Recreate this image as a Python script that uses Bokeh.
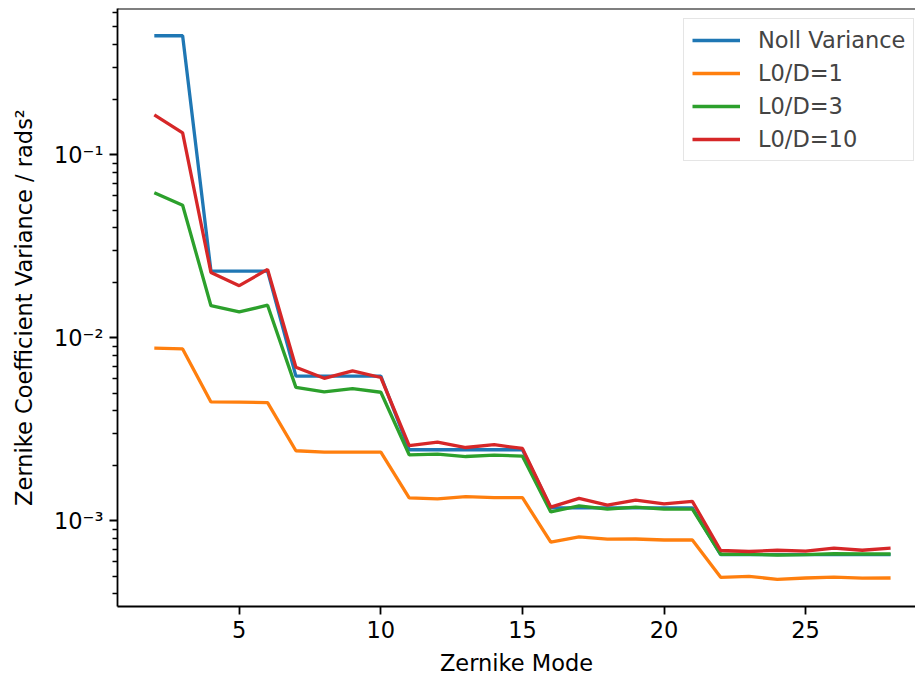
from bokeh.plotting import figure
from bokeh.models import Range1d, FixedTicker, CustomJSTickFormatter, Span, Legend
from bokeh.embed import file_html
from bokeh.resources import INLINE

modes = list(range(2, 29))

noll = [0.448, 0.448,
        0.0232, 0.0232, 0.0232,
        0.00619, 0.00619, 0.00619, 0.00619,
        0.00245, 0.00245, 0.00245, 0.00245, 0.00245,
        0.00118, 0.00118, 0.00118, 0.00118, 0.00118, 0.00118,
        0.000655, 0.000655, 0.000655, 0.000655, 0.000655, 0.000655, 0.000655]

l0d1 = [0.00879, 0.00871,
        0.00447, 0.00446, 0.00443,
        0.00242, 0.00238, 0.00238, 0.00238,
        0.001337, 0.00132, 0.00136, 0.00134, 0.00134,
        0.000766, 0.000818, 0.000795, 0.000797, 0.000787, 0.000787,
        0.000492, 0.000498, 0.00048, 0.000488, 0.000494, 0.000487, 0.000488]

l0d3 = [0.0622, 0.0531,
        0.0150, 0.01387, 0.0151,
        0.00537, 0.00508, 0.00528, 0.00505,
        0.0023, 0.00232, 0.00225, 0.00229, 0.00226,
        0.00112, 0.00121, 0.00116, 0.00119, 0.00116, 0.00116,
        0.000658, 0.000658, 0.000652, 0.000655, 0.000662, 0.00066, 0.00066]

l0d10 = [0.1655, 0.132,
         0.0228, 0.0193, 0.0237,
         0.00692, 0.00602, 0.00661, 0.00608,
         0.00258, 0.0027, 0.00252, 0.00261, 0.00249,
         0.00119, 0.00133, 0.00122, 0.0013, 0.00124, 0.00128,
         0.00069, 0.000681, 0.000692, 0.000685, 0.000711, 0.000692, 0.000711]

series_names = ["Noll Variance", "L0/D=1", "L0/D=3", "L0/D=10"]
series_values = [noll, l0d1, l0d3, l0d10]
colors = ["#1f77b4", "#ff7f0e", "#2ca02c", "#d62728"]

x_ticks = [5, 10, 15, 20, 25]
y_major = [1e-3, 1e-2, 1e-1]
y_minor = [m * 10.0 ** e for e in (-4, -3, -2, -1) for m in range(2, 10)]

FONT = "DejaVu Sans"
FS = "22.5px"

p = figure(frame_width=798, frame_height=598, y_axis_type="log",
           x_range=Range1d(0.7, 28.88), y_range=Range1d(3.41e-4, 0.631),
           output_backend="svg", toolbar_location=None,
           min_border_left=117, min_border_right=0, min_border_top=8,
           min_border_bottom=69)
p.outline_line_color = None
p.xgrid.visible = False
p.ygrid.visible = False
p.background_fill_color = "white"
p.border_fill_color = "white"

renderers = []
for name, vals, col in zip(series_names, series_values, colors):
    r = p.line(modes, vals, line_color=col, line_width=3.3)
    renderers.append((name, [r]))

legend = Legend(items=renderers, location=(566, 445))
legend.label_text_font = FONT
legend.label_text_font_size = FS
legend.glyph_width = 48
legend.glyph_height = 22
legend.label_height = 22
legend.label_standoff = 18
legend.spacing = 7
legend.padding = 8
legend.margin = 0
legend.border_line_color = "#cccccc"
legend.border_line_width = 1.5
legend.background_fill_alpha = 0.8
p.add_layout(legend)

top_spine = Span(location=0.631, dimension="width", line_color="black", line_width=1.8)
p.add_layout(top_spine)

for ax in (p.xaxis[0], p.yaxis[0]):
    ax.axis_line_width = 1.8
    ax.axis_line_color = "black"
    ax.major_tick_line_width = 1.8
    ax.minor_tick_line_width = 1.4
    ax.major_tick_out = 8
    ax.major_tick_in = 0
    ax.minor_tick_out = 5
    ax.minor_tick_in = 0
    ax.major_label_text_font = FONT
    ax.major_label_text_font_size = FS
    ax.major_label_text_color = "black"
    ax.axis_label_text_font = FONT
    ax.axis_label_text_font_size = FS
    ax.axis_label_text_font_style = "normal"
    ax.axis_label_text_color = "black"

p.xaxis[0].ticker = FixedTicker(ticks=x_ticks, minor_ticks=[])
p.xaxis[0].axis_label = "Zernike Mode"
p.xaxis[0].major_label_standoff = 6
p.xaxis[0].axis_label_standoff = 9

p.yaxis[0].ticker = FixedTicker(ticks=y_major, minor_ticks=y_minor)
p.yaxis[0].formatter = CustomJSTickFormatter(code="""
const e = Math.round(Math.log10(tick));
const sup = {'-': '\u207b', '0': '\u2070', '1': '\u00b9', '2': '\u00b2', '3': '\u00b3',
             '4': '\u2074', '5': '\u2075', '6': '\u2076', '7': '\u2077', '8': '\u2078', '9': '\u2079'};
return '10' + String(e).split('').map(c => sup[c]).join('');
""")
p.yaxis[0].axis_label = "Zernike Coefficient Variance / rads\u00b2"
p.yaxis[0].major_label_standoff = 6
p.yaxis[0].axis_label_standoff = 14

open("out.html", "w").write(file_html(p, INLINE))
